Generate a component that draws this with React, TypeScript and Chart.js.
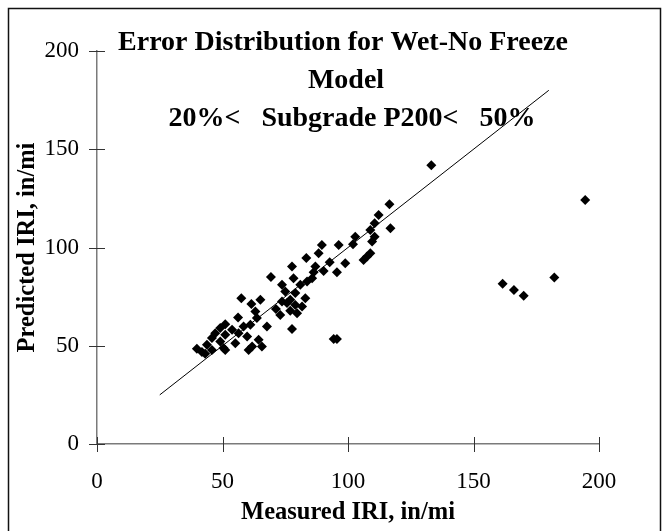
import { useEffect, useRef } from "react";
import { Chart, registerables } from "chart.js";

Chart.register(...registerables);

const measuredIRI = [
  39.8, 41.8, 43.1, 43.8, 45.8, 45.8, 47.1, 49.1, 49.1, 50.4,
  51.1, 51.1, 51.1, 53.8, 55.1, 56.2, 56.4, 57.5, 58.4, 59.8,
  60.4, 61.1, 61.5, 61.8, 63.1, 63.7, 64.4, 65.1, 65.7, 67.7,
  69.3, 71.3, 73.0, 73.7, 73.7, 75.0, 75.7, 77.0, 77.0, 77.7,
  77.7, 78.3, 79.0, 79.0, 79.7, 81.0, 81.7, 83.0, 83.4, 83.7,
  85.7, 86.3, 87.0, 88.3, 89.6, 90.3, 92.7, 94.3, 95.6, 95.6,
  96.3, 98.9, 102.0, 102.9, 106.2, 107.6, 108.9, 108.9, 109.6, 110.6,
  110.6, 112.2, 116.5, 116.9, 133.2, 161.6, 166.1, 170.0, 182.2, 194.5,
];
const predictedIRI = [
  48.5, 46.8, 45.9, 50.5, 53.9, 47.9, 56.4, 59.0, 52.2, 48.8,
  61.0, 55.6, 47.9, 58.1, 51.3, 64.4, 56.4, 74.2, 59.8, 54.7,
  47.9, 60.7, 71.2, 49.6, 67.4, 64.1, 53.0, 73.4, 49.6, 59.8,
  85.0, 68.7, 65.7, 72.5, 81.0, 77.6, 71.7, 73.4, 67.8, 90.3,
  58.5, 84.4, 76.8, 70.8, 66.6, 81.0, 70.0, 74.2, 94.6, 82.7,
  84.4, 87.4, 90.3, 97.1, 101.3, 88.1, 92.5, 53.4, 53.4, 87.4,
  101.3, 92.0, 101.7, 105.5, 93.7, 95.4, 97.1, 108.9, 103.0, 105.5,
  112.4, 116.6, 122.0, 109.8, 141.9, 81.5, 78.4, 75.5, 84.7, 124.2,
];

const equalityLineX = [25, 180];
const equalityLineY = [25, 180];

const xTicks = [0, 50, 100, 150, 200];
const yTicks = [0, 50, 100, 150, 200];

const titleLines = [
  "Error Distribution for Wet-No Freeze",
  "Model",
  "20%<   Subgrade P200<   50%",
];
const xAxisTitle = "Measured IRI, in/mi";
const yAxisTitle = "Predicted IRI, in/mi";

const FONT = "'Liberation Serif', 'Times New Roman', serif";
const TITLE_X = [343, 346, 352];
const TITLE_Y = [43, 81, 119];

const decorPlugin = {
  id: "decor",
  afterDraw(chart: any) {
    const ctx = chart.ctx as CanvasRenderingContext2D;
    const xs = chart.scales.x;
    const ys = chart.scales.y;
    const ay = chart.chartArea.bottom;
    const ax = chart.chartArea.left;
    ctx.save();
    ctx.strokeStyle = "#333";
    ctx.lineWidth = 1;
    for (const v of xTicks) {
      const px = Math.round(xs.getPixelForValue(v)) + 0.5;
      ctx.beginPath();
      ctx.moveTo(px, ay - 7);
      ctx.lineTo(px, ay + 8);
      ctx.stroke();
    }
    for (const v of yTicks) {
      const py = Math.round(ys.getPixelForValue(v)) + 0.5;
      ctx.beginPath();
      ctx.moveTo(ax - 8, py);
      ctx.lineTo(ax + 8, py);
      ctx.stroke();
    }
    ctx.fillStyle = "#000";
    ctx.font = `bold 28px ${FONT}`;
    ctx.textAlign = "center";
    ctx.textBaseline = "middle";
    titleLines.forEach((t, i) => ctx.fillText(t, TITLE_X[i], TITLE_Y[i]));
    ctx.strokeStyle = "#111";
    ctx.lineWidth = 1.5;
    ctx.strokeRect(8.5, 8.5, 652, 640);
    ctx.restore();
  },
};

export default function App() {
  const ref = useRef<HTMLCanvasElement>(null);
  useEffect(() => {
    const points = measuredIRI.map((x, i) => ({ x, y: predictedIRI[i] }));
    const line = equalityLineX.map((x, i) => ({ x, y: equalityLineY[i] }));
    const chart = new Chart(ref.current!, {
      type: "scatter",
      data: {
        datasets: [
          {
            data: points,
            pointStyle: "rectRot",
            pointRadius: 5,
            backgroundColor: "#000",
            borderColor: "#000",
            borderWidth: 0,
          },
          {
            data: line,
            showLine: true,
            pointRadius: 0,
            borderColor: "#000",
            borderWidth: 1,
          } as any,
        ],
      },
      options: {
        responsive: false,
        animation: false,
        layout: { padding: { top: 51, right: 70, left: 0, bottom: 0 } },
        plugins: { legend: { display: false }, tooltip: { enabled: false } },
        scales: {
          x: {
            type: "linear",
            min: 0,
            max: 200,
            afterFit: (s: any) => {
              s.height = 87;
            },
            ticks: {
              stepSize: 50,
              color: "#000",
              padding: 24,
              font: { family: FONT, size: 23 },
            },
            grid: { drawOnChartArea: false, drawTicks: false },
            border: { color: "#7a7a7a", width: 1.5 },
            title: {
              display: true,
              text: xAxisTitle,
              color: "#000",
              font: { family: FONT, size: 24.5, weight: "bold" },
              padding: { top: 0, bottom: 4 },
            },
          },
          y: {
            type: "linear",
            min: 0,
            max: 200,
            afterFit: (s: any) => {
              s.width = 97;
            },
            ticks: {
              stepSize: 50,
              color: "#000",
              padding: 18,
              font: { family: FONT, size: 23 },
            },
            grid: { drawOnChartArea: false, drawTicks: false },
            border: { color: "#7a7a7a", width: 1.5 },
            title: {
              display: true,
              text: yAxisTitle,
              color: "#000",
              font: { family: FONT, size: 24.5, weight: "bold" },
              padding: { top: 13, bottom: 0 },
            },
          },
        },
      },
      plugins: [decorPlugin],
    });
    return () => chart.destroy();
  }, []);
  return (
    <canvas
      ref={ref}
      width={669}
      height={531}
      style={{ position: "fixed", left: 0, top: 0, width: 669, height: 531 }}
    />
  );
}
